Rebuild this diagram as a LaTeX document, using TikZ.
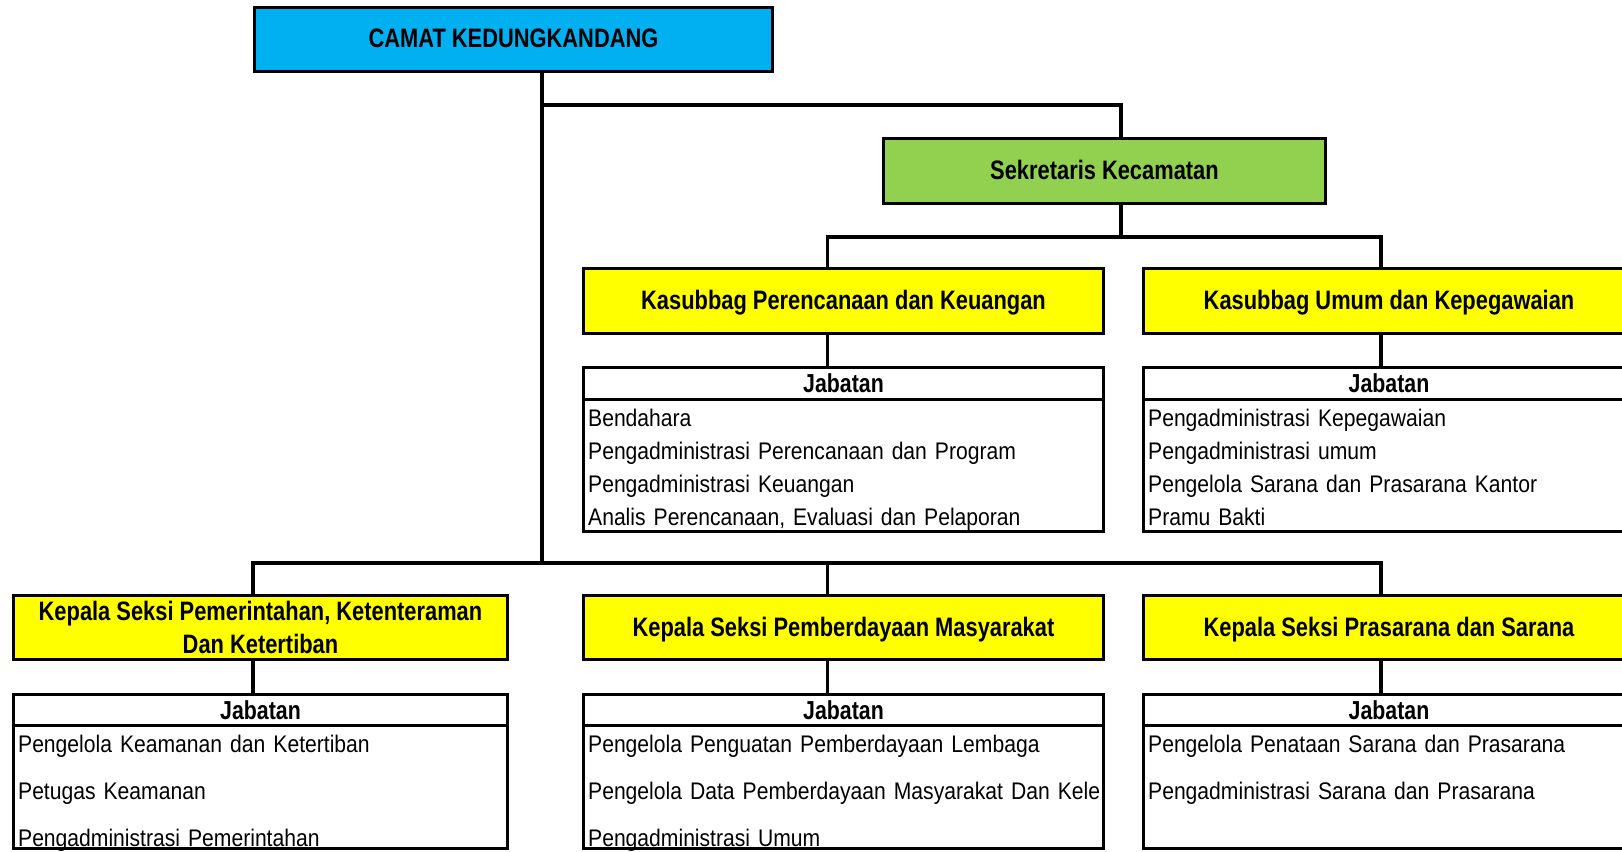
\documentclass[tikz,border=0pt]{standalone}
\usepackage{fontspec}
\setmainfont{Liberation Sans}[FakeStretch=0.88]
\newfontfamily\headfont{Liberation Sans}[FakeStretch=0.82]
\usetikzlibrary{positioning}

\definecolor{camatblue}{HTML}{00B0F0}
\definecolor{sekgreen}{HTML}{92D050}
\definecolor{seksiyellow}{HTML}{FFFF00}

\begin{document}
\begin{tikzpicture}[
  x=0.75pt, y=-0.75pt,
  every node/.style={font=\fontsize{18}{24.7}\selectfont},
  unitbox/.style={rectangle, draw, line width=2.3pt, align=center,
    inner sep=0pt, outer sep=0pt,
    font=\headfont\bfseries\fontsize{20}{24.8}\selectfont},
  onerow/.style={text depth=1.5pt},
  jabhead/.style={rectangle, draw, line width=2.3pt, inner sep=0pt,
    outer sep=0pt, minimum height=24pt,
    font=\headfont\bfseries\fontsize{19.5}{24}\selectfont},
  joblist/.style={rectangle, draw, line width=2.3pt, align=left,
    inner xsep=3.5pt, inner ysep=7.5pt, outer sep=0pt},
  link/.style={line width=2.3pt}
]

\useasboundingbox (0,0) rectangle (1622,851);

% pimpinan
\node[unitbox, onerow, fill=camatblue, minimum width=388.5pt, minimum height=48pt]
  (camat) at (513.5,39.5) {CAMAT KEDUNGKANDANG};
\node[unitbox, onerow, fill=sekgreen, minimum width=331.5pt, minimum height=49pt]
  (sek) at (1104.5,171) {Sekretaris Kecamatan};

% kasubbag
\node[unitbox, onerow, fill=seksiyellow, minimum width=390pt, minimum height=48.75pt]
  (kas1) at (843.5,301) {Kasubbag Perencanaan dan Keuangan};
\node[unitbox, onerow, fill=seksiyellow, minimum width=368.25pt, minimum height=48.75pt]
  (kas2) at (1389,301) {Kasubbag Umum dan Kepegawaian};

\node[jabhead, minimum width=390pt, below=25.25pt of kas1] (jab1) {Jabatan};
\node[jabhead, minimum width=368.25pt, below=25.25pt of kas2] (jab2) {Jabatan};

\node[joblist, text width=383pt, text depth=71.25pt, below=0pt of jab1]
  (list1) {Bendahara\\
  Pengadministrasi Perencanaan dan Program\\
  Pengadministrasi Keuangan\\
  Analis Perencanaan, Evaluasi dan Pelaporan};
\node[joblist, text width=361.25pt, text depth=71.25pt, below=0pt of jab2]
  (list2) {Pengadministrasi Kepegawaian\\
  Pengadministrasi umum\\
  Pengelola Sarana dan Prasarana Kantor\\
  Pramu Bakti};

% kepala seksi
\node[unitbox, fill=seksiyellow, minimum width=370.5pt, minimum height=48pt]
  (kep1) at (260.5,627.5) {Kepala Seksi Pemerintahan, Ketenteraman\\
  Dan Ketertiban};
\node[unitbox, onerow, fill=seksiyellow, minimum width=390pt, minimum height=48pt]
  (kep2) at (843.5,627.5) {Kepala Seksi Pemberdayaan Masyarakat};
\node[unitbox, onerow, fill=seksiyellow, minimum width=368.25pt, minimum height=48pt]
  (kep3) at (1389,627.5) {Kepala Seksi Prasarana dan Sarana};

\node[jabhead, minimum width=370.5pt, minimum height=23.25pt,
  below=26.25pt of kep1] (jab3) {Jabatan};
\node[jabhead, minimum width=390pt, minimum height=23.25pt,
  below=26.25pt of kep2] (jab4) {Jabatan};
\node[jabhead, minimum width=368.25pt, minimum height=23.25pt,
  below=26.25pt of kep3] (jab5) {Jabatan};

\node[joblist, text width=363.5pt, text depth=64.5pt, below=0pt of jab3,
  font=\fontsize{18}{35}\selectfont]
  (list3) {Pengelola Keamanan dan Ketertiban\\
  Petugas Keamanan\\
  Pengadministrasi Pemerintahan};
\node[joblist, text width=383pt, text depth=64.5pt, below=0pt of jab4,
  font=\fontsize{18}{35}\selectfont]
  (list4) {Pengelola Penguatan Pemberdayaan Lembaga\\
  \mbox{Pengelola Data Pemberdayaan Masyarakat Dan Kele}\\
  Pengadministrasi Umum};
\node[joblist, text width=361.25pt, text depth=64.5pt, below=0pt of jab5,
  font=\fontsize{18}{35}\selectfont]
  (list5) {Pengelola Penataan Sarana dan Prasarana\\
  Pengadministrasi Sarana dan Prasarana};

% garis komando
\coordinate (trunk) at (542,563);
\coordinate (sekjoin) at (1121,105);
\coordinate (kasjoin) at (1121,237);
\coordinate (colA) at (253,563);
\coordinate (colB) at (827.5,563);
\coordinate (colC) at (1381,563);

\draw[link] (camat.south -| trunk) -- (trunk);
\draw[link] (trunk |- sekjoin) -- (sekjoin) -- (sek.north -| sekjoin);
\draw[link] (sek.south -| kasjoin) -- (kasjoin);
\draw[link] (kas1.north -| colB) |- (kasjoin) -| (kas2.north -| colC);
\draw[link] (kas1.south -| colB) -- (jab1.north -| colB);
\draw[link] (kas2.south -| colC) -- (jab2.north -| colC);

\draw[link] (kep1.north -| colA) |- (colC) -- (kep3.north -| colC);
\draw[link] (colB) -- (kep2.north -| colB);
\draw[link] (kep1.south -| colA) -- (jab3.north -| colA);
\draw[link] (kep2.south -| colB) -- (jab4.north -| colB);
\draw[link] (kep3.south -| colC) -- (jab5.north -| colC);

\end{tikzpicture}
\end{document}
